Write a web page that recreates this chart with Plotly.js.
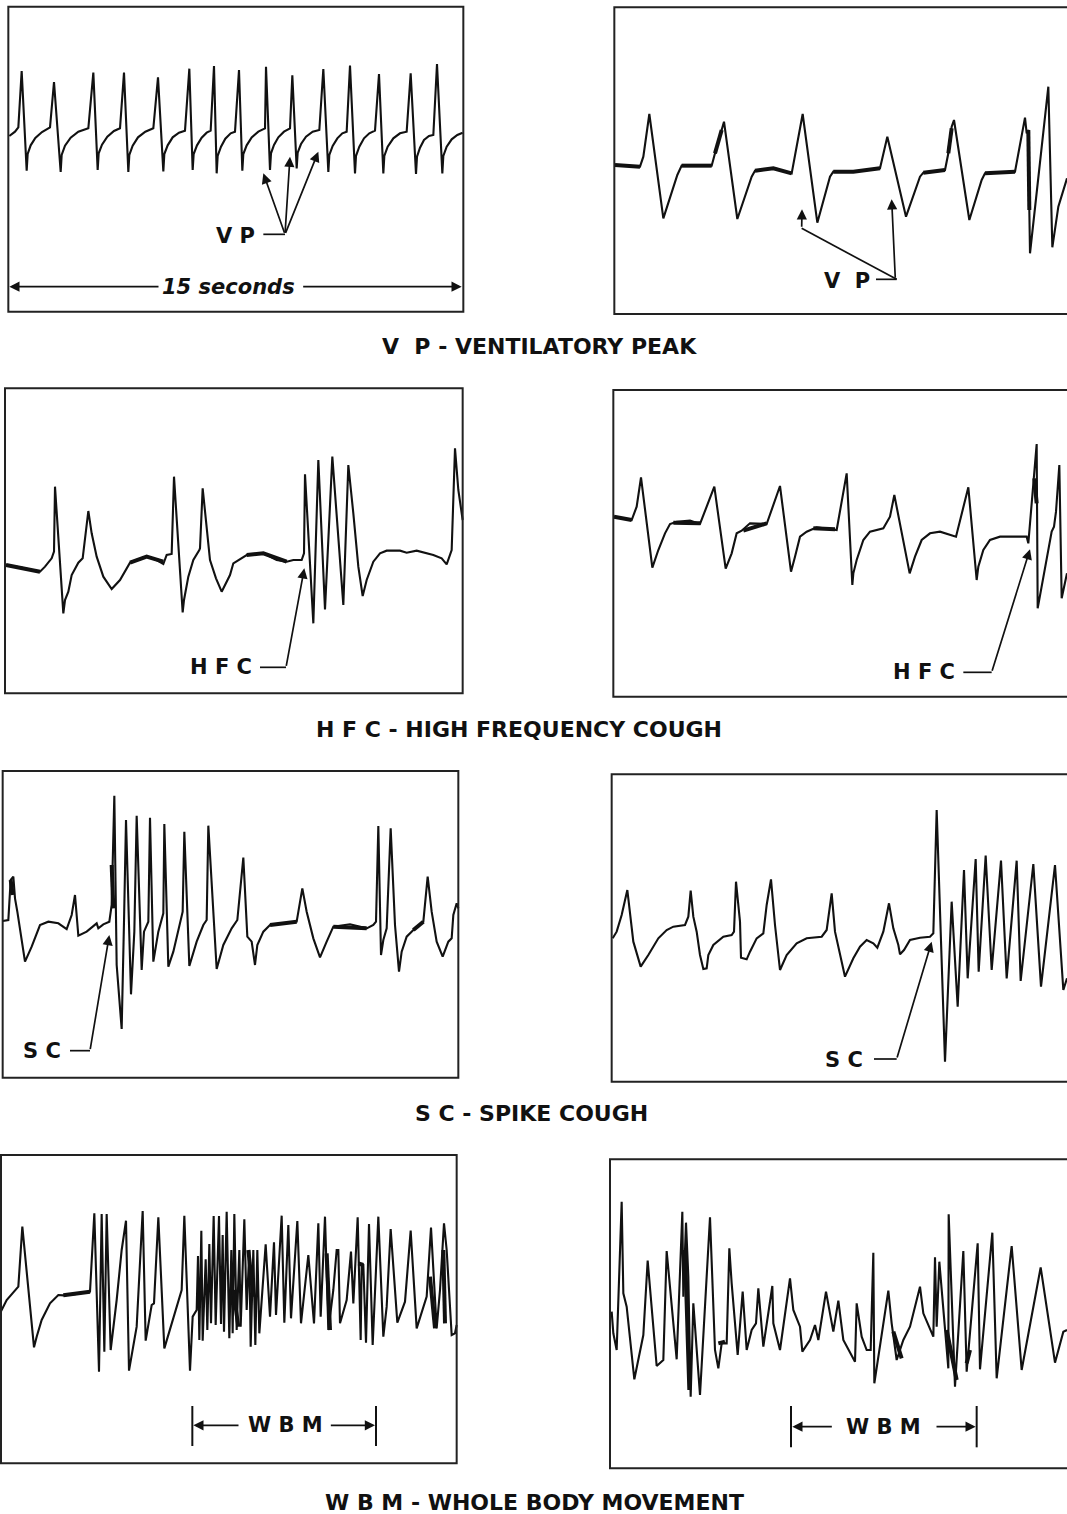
<!DOCTYPE html>
<html><head><meta charset="utf-8">
<script src="https://cdn.plot.ly/plotly-3.0.1.min.js"></script>
<style>html,body{margin:0;padding:0;background:#fff}#chart{width:1067px;height:1514px}</style>
</head><body><div id="chart"></div>
<script>
// ---- Traces (time units across, amplitude units down) ----
const vpA = [[28,408],[45,395],[55,382],[65,213],[80,512],[83,462],[92,436],[106,414],[126,396],[150,382],[162,246],[182,516],[185,465],[195,437],[212,413],[235,395],[265,385],[280,218],[293,510],[296,460],[306,434],[322,410],[342,393],[360,385],[372,218],[385,516],[388,465],[398,437],[414,412],[436,395],[460,385],[474,232],[490,514],[493,462],[503,436],[518,412],[537,398],[555,392],[568,206],[578,510],[581,462],[591,436],[605,413],[620,398],[632,392],[642,198],[650,520],[653,468],[663,440],[676,416],[692,400],[705,395],[717,210],[727,512],[730,462],[740,436],[755,412],[775,395],[795,385],[798,200],[810,510],[813,460],[822,435],[835,412],[852,395],[870,385],[877,226],[890,505],[893,458],[903,432],[918,410],[938,395],[958,390],[970,207],[985,516],[988,465],[998,438],[1012,415],[1027,400],[1040,395],[1050,197],[1065,520],[1068,468],[1078,440],[1092,415],[1108,400],[1125,392],[1137,222],[1150,520],[1153,468],[1163,440],[1180,415],[1200,400],[1220,395],[1232,220],[1248,522],[1251,470],[1260,443],[1272,420],[1287,408],[1300,405],[1311,192],[1327,520],[1330,468],[1340,440],[1355,418],[1372,405],[1388,398]];
const vpANoise = [];

const vpB = [[45,495],[120,500],[130,470],[148,342],[190,655],[232,525],[245,497],[335,497],[345,460],[365,390],[372,365],[412,657],[455,530],[465,512],[520,505],[575,520],[608,342],[652,668],[690,530],[700,515],[760,515],[840,505],[862,410],[918,650],[960,530],[970,518],[1035,510],[1045,460],[1055,380],[1062,360],[1108,660],[1145,540],[1155,520],[1245,515],[1275,353],[1280,400],[1286,390],[1288,630],[1290,760],[1345,260],[1357,742],[1375,620],[1401,535]];
const vpBNoise = [[45,495],[120,500],null,[245,497],[335,497],null,[345,460],[365,390],null,[465,512],[520,505],[575,520],null,[700,515],[760,515],[840,505],null,[970,518],[1035,510],null,[1045,460],[1055,385],null,[1155,520],[1245,515],null,[1285,390],[1288,630]];

const hfcA = [[18,555],[60,562],[120,575],[135,560],[155,535],[162,515],[165,320],[190,700],[195,660],[205,635],[215,585],[235,548],[248,535],[258,460],[265,393],[275,460],[290,530],[310,590],[335,627],[360,600],[390,548],[440,530],[470,540],[490,552],[500,525],[515,522],[522,290],[548,697],[552,660],[565,590],[580,540],[598,510],[600,505],[608,325],[620,450],[630,540],[648,595],[665,635],[690,585],[700,550],[740,525],[790,520],[830,540],[860,545],[880,540],[905,540],[912,520],[915,283],[940,730],[955,240],[975,688],[997,230],[1030,675],[1045,255],[1060,400],[1075,560],[1088,648],[1100,600],[1120,545],[1140,520],[1160,512],[1200,512],[1220,518],[1250,512],[1300,525],[1325,535],[1340,553],[1355,510],[1365,205],[1375,330],[1388,420]];
const hfcANoise = [[18,555],[120,575],null,[390,548],[440,530],[490,545],null,[740,525],[790,520],[860,545]];

const hfcB = [[42,410],[95,420],[110,380],[123,292],[157,563],[175,510],[195,460],[210,432],[230,425],[270,422],[300,432],[343,320],[377,566],[395,520],[410,460],[425,452],[450,430],[500,432],[540,318],[573,575],[585,530],[600,470],[620,455],[650,442],[710,450],[740,280],[757,615],[760,580],[770,540],[790,480],[810,455],[850,445],[870,410],[883,345],[929,580],[945,530],[965,480],[990,460],[1020,455],[1068,470],[1105,322],[1130,600],[1135,560],[1150,510],[1170,480],[1200,470],[1280,470],[1285,490],[1310,192],[1313,685],[1355,455],[1362,440],[1368,395],[1378,255],[1385,655],[1401,580]];
const hfcBNoise = [[42,410],[95,420],null,[220,428],[300,430],null,[430,452],[500,430],null,[640,445],[705,448],null,[1303,295],[1310,370]];

const scA = [[8,468],[25,465],[32,345],[40,335],[45,400],[52,440],[75,590],[95,545],[120,480],[145,470],[175,475],[200,492],[215,450],[225,390],[235,512],[260,500],[290,475],[295,490],[310,478],[328,470],[335,420],[338,300],[343,92],[350,600],[365,792],[372,470],[378,165],[393,688],[403,500],[410,152],[425,615],[432,500],[445,470],[450,158],[460,590],[475,500],[490,445],[493,177],[505,605],[520,560],[540,480],[548,440],[553,200],[568,603],[590,530],[610,480],[620,465],[625,182],[650,612],[670,540],[695,490],[712,465],[730,278],[742,515],[755,530],[765,600],[772,540],[790,500],[810,480],[850,475],[890,470],[907,370],[920,440],[940,520],[960,577],[980,530],[1000,485],[1050,478],[1100,490],[1120,480],[1128,470],[1135,183],[1143,570],[1150,525],[1160,490],[1172,190],[1185,480],[1197,620],[1205,560],[1220,515],[1240,495],[1270,470],[1283,335],[1295,440],[1310,530],[1328,575],[1345,530],[1355,520],[1360,450],[1370,415],[1375,430]];
const scANoise = [[32,345],[38,390],null,[335,300],[340,430],null,[810,480],[890,470],null,[1000,485],[1100,490],null,[1240,495],[1270,470]];

const scB = [[38,520],[50,500],[65,450],[82,375],[100,530],[110,565],[122,605],[145,570],[175,520],[200,495],[220,485],[255,480],[265,455],[272,377],[280,455],[290,500],[300,570],[310,612],[320,610],[325,570],[340,540],[370,515],[395,510],[402,500],[408,350],[415,420],[420,470],[423,578],[440,583],[450,560],[470,520],[490,505],[500,420],[513,343],[525,480],[540,615],[560,570],[590,535],[620,520],[665,515],[680,495],[695,385],[705,500],[735,635],[760,580],[780,545],[800,525],[820,535],[832,548],[850,500],[867,415],[880,490],[895,540],[900,568],[912,555],[930,525],[960,518],[990,515],[1000,505],[1010,135],[1035,890],[1055,410],[1073,725],[1092,315],[1103,640],[1127,282],[1136,620],[1157,272],[1160,330],[1175,615],[1203,287],[1220,640],[1250,287],[1262,648],[1300,297],[1323,665],[1365,300],[1375,440],[1390,675],[1401,640]];
const scBNoise = [];

const wbmA = [[0,490],[20,450],[55,410],[67,230],[102,592],[110,560],[125,510],[150,460],[175,435],[190,436],[230,432],[270,425],[283,190],[297,665],[305,192],[313,605],[320,192],[332,600],[350,450],[365,300],[378,212],[387,662],[410,530],[428,183],[437,572],[455,465],[462,460],[475,202],[493,595],[545,420],[553,197],[570,662],[578,500],[590,480],[594,318],[598,570],[604,242],[608,572],[617,328],[622,540],[628,282],[633,520],[641,198],[647,525],[657,198],[663,522],[668,255],[672,545],[680,185],[688,565],[694,300],[698,550],[703,192],[710,540],[718,300],[722,530],[733,208],[740,480],[748,300],[752,590],[760,300],[766,585],[772,300],[778,550],[797,283],[810,500],[822,277],[828,495],[845,197],[853,518],[865,225],[873,505],[892,213],[903,520],[925,315],[942,520],[955,220],[962,500],[975,200],[985,540],[1000,420],[1010,300],[1015,300],[1020,520],[1040,450],[1053,305],[1060,460],[1073,202],[1082,570],[1085,345],[1090,345],[1098,578],[1107,222],[1118,585],[1135,200],[1150,560],[1160,470],[1172,237],[1192,518],[1215,455],[1232,242],[1250,535],[1280,440],[1293,233],[1310,535],[1320,420],[1332,220],[1340,300],[1355,555],[1365,550],[1370,525]];
const wbmANoise = [[190,436],[270,425],null,[700,420],[715,530],null,[745,300],[760,440],null,[980,310],[990,540],null,[1075,340],[1090,345],null,[1290,380],[1305,535],null,[1330,300],[1335,520]];

const wbmB = [[35,485],[40,550],[50,600],[65,155],[70,430],[80,470],[103,688],[120,600],[130,555],[143,332],[155,480],[170,648],[190,630],[200,303],[230,628],[247,185],[250,440],[258,218],[265,380],[272,740],[280,460],[300,735],[330,202],[345,600],[355,655],[365,580],[380,580],[388,295],[395,400],[413,615],[428,425],[440,600],[455,540],[468,520],[475,415],[490,590],[517,408],[520,520],[540,600],[570,385],[580,480],[600,530],[607,605],[630,570],[645,525],[655,570],[678,425],[700,545],[715,452],[730,570],[765,635],[770,460],[785,560],[800,600],[812,600],[820,308],[823,700],[865,422],[875,520],[890,630],[910,570],[930,530],[960,410],[970,490],[1000,560],[1005,322],[1010,530],[1018,335],[1045,655],[1046,193],[1065,710],[1090,303],[1100,665],[1133,280],[1140,658],[1177,248],[1190,685],[1235,288],[1265,660],[1322,352],[1365,638],[1390,545],[1401,540]];
const wbmBNoise = [[255,300],[268,720],null,[355,580],[375,575],null,[880,545],[905,625],null,[1040,540],[1070,690],null,[1100,640],[1110,600]];

const captions = ["V\u00a0\u00a0P - VENTILATORY PEAK","H F C - HIGH FREQUENCY COUGH","S C - SPIKE COUGH","W B M - WHOLE BODY MOVEMENT"];
const labels = ["V P","V\u00a0\u00a0P","H F C","H F C","S C","S C","W B M","W B M"];
const spanLabel = "15 seconds";

// ---- Layout ----
const W = 1067, H = 1514, INK = '#111';
const frames = [
  {ox:0,oy:0,w:470,h:320,box:[25,20,1390,935],trace:vpA,noise:vpANoise},
  {ox:600,oy:0,w:467,h:320,box:[43,22,1430,942],trace:vpB,noise:vpBNoise},
  {ox:0,oy:380,w:470,h:320,box:[15,25,1388,940],trace:hfcA,noise:hfcANoise},
  {ox:600,oy:380,w:467,h:320,box:[40,30,1430,950],trace:hfcB,noise:hfcBNoise},
  {ox:0,oy:765,w:470,h:320,box:[8,18,1375,938],trace:scA,noise:scANoise},
  {ox:600,oy:765,w:467,h:320,box:[35,28,1430,950],trace:scB,noise:scBNoise},
  {ox:0,oy:1150,w:470,h:320,box:[3,15,1370,940],trace:wbmA,noise:wbmANoise},
  {ox:600,oy:1150,w:467,h:320,box:[30,28,1430,955],trace:wbmB,noise:wbmBNoise}
];
const capPos = [[539,346],[519,729],[531,1113],[534,1502]];

const toXY = pts => ({x: pts.map(p => p ? p[0] : null), y: pts.map(p => p ? p[1] : null)});
const data = [], shapes = [], annotations = [];
const layout = {width:W, height:H, margin:{l:0,r:0,t:0,b:0}, showlegend:false,
  paper_bgcolor:'#fff', plot_bgcolor:'rgba(0,0,0,0)'};

frames.forEach((f, i) => {
  const n = i + 1, xs = n === 1 ? '' : String(n);
  const xr = 'x' + xs, yr = 'y' + xs;
  layout['xaxis' + xs] = {domain:[f.ox / W, (f.ox + f.w) / W], range:[0, 3 * f.w], visible:false, fixedrange:true, anchor:yr};
  layout['yaxis' + xs] = {domain:[1 - (f.oy + f.h) / H, 1 - f.oy / H], range:[3 * f.h, 0], visible:false, fixedrange:true, anchor:xr};
  const t = toXY(f.trace);
  data.push({x:t.x, y:t.y, xaxis:xr, yaxis:yr, mode:'lines', line:{color:INK, width:2.1}, hoverinfo:'skip'});
  if (f.noise.length) {
    const z = toXY(f.noise);
    data.push({x:z.x, y:z.y, xaxis:xr, yaxis:yr, mode:'lines', line:{color:INK, width:4}, hoverinfo:'skip', connectgaps:false});
  }
  const b = f.box;
  shapes.push({type:'rect', xref:xr, yref:yr, x0:b[0], y0:b[1], x1:b[2], y1:b[3], line:{color:'#222', width:2}});
});

const ref = n => n === 1 ? ['x','y'] : ['x' + n, 'y' + n];
function seg(n, x0, y0, x1, y1, w) {
  const [xr, yr] = ref(n);
  shapes.push({type:'line', xref:xr, yref:yr, x0, y0, x1, y1, line:{color:INK, width:w || 1.7}});
}
function arrow(n, tx, ty, hx, hy) {
  const [xr, yr] = ref(n);
  annotations.push({xref:xr, yref:yr, axref:xr, ayref:yr, x:hx, y:hy, ax:tx, ay:ty, text:'', showarrow:true,
    arrowhead:2, arrowsize:1.2, arrowwidth:1.7, arrowcolor:INK, standoff:0, startstandoff:0});
}
function label(n, x, y, txt, size, italic) {
  const [xr, yr] = ref(n);
  const s = italic ? '<b><i>' + txt + '</i></b>' : '<b>' + txt + '</b>';
  annotations.push({xref:xr, yref:yr, x, y, text:s, showarrow:false, xanchor:'center', yanchor:'middle',
    font:{family:'DejaVu Sans, Verdana, sans-serif', size:size || 21, color:INK}});
}

// Panel 1 : V P arrows and the 15 second span
label(1, 705, 708, labels[0]);
seg(1, 790, 703, 855, 703);
arrow(1, 855, 703, 790, 520); arrow(1, 855, 703, 870, 470); arrow(1, 855, 703, 955, 455);
label(1, 685, 860, spanLabel, 21, true);
arrow(1, 480, 860, 28, 860); arrow(1, 905, 860, 1385, 860);
// Panel 2
label(2, 740, 842, labels[1]);
seg(2, 828, 838, 890, 838);
seg(2, 890, 838, 605, 685);
arrow(2, 605, 685, 606, 628); arrow(2, 886, 838, 875, 598);
// Panel 3
label(3, 662, 862, labels[2]);
seg(3, 780, 862, 858, 862);
arrow(3, 858, 862, 913, 565);
// Panel 4
label(4, 972, 877, labels[3]);
seg(4, 1090, 877, 1175, 877);
arrow(4, 1175, 877, 1290, 508);
// Panel 5
label(5, 126, 857, labels[4]);
seg(5, 210, 857, 270, 857);
arrow(5, 270, 857, 328, 510);
// Panel 6
label(6, 731, 885, labels[5]);
seg(6, 822, 882, 890, 882);
arrow(6, 890, 882, 995, 530);
// Panel 7
label(7, 856, 826, labels[6]);
seg(7, 577, 768, 577, 888, 2); seg(7, 1128, 768, 1128, 888, 2);
arrow(7, 720, 826, 580, 826); arrow(7, 988, 826, 1125, 826);
// Panel 8
label(8, 851, 830, labels[7]);
seg(8, 573, 768, 573, 892, 2); seg(8, 1130, 768, 1130, 892, 2);
arrow(8, 700, 830, 577, 830); arrow(8, 1005, 830, 1127, 830);

captions.forEach((c, i) => {
  annotations.push({xref:'paper', yref:'paper', x:capPos[i][0] / W, y:1 - capPos[i][1] / H, text:'<b>' + c + '</b>',
    showarrow:false, xanchor:'center', yanchor:'middle', font:{family:'DejaVu Sans, Verdana, sans-serif', size:22, color:INK}});
});

layout.shapes = shapes;
layout.annotations = annotations;
Plotly.newPlot('chart', data, layout, {staticPlot:true, displayModeBar:false});
</script></body></html>
